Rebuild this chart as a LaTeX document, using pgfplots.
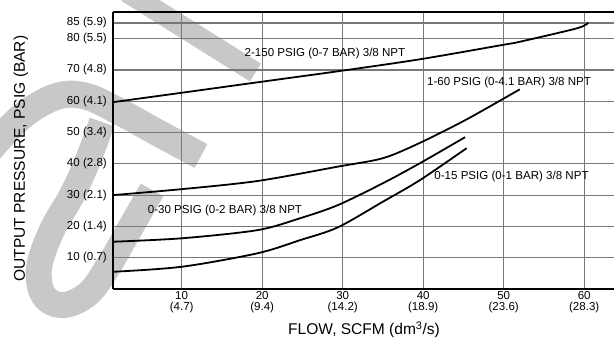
\documentclass[border=0pt]{standalone}
\usepackage{pgfplots}
\pgfplotsset{compat=1.18}
\usepackage{fontspec}
\setmainfont{Liberation Sans}
\definecolor{wm}{RGB}{200,200,200}
\definecolor{gridc}{RGB}{120,120,120}
\newcommand{\tl}{\fontsize{11.6}{11.5}\selectfont}
\newcommand{\al}{\fontsize{15.6}{18}\selectfont}
\begin{document}
\begin{tikzpicture}
\path[use as bounding box] (0bp,0bp) rectangle (615bp,343bp);
% watermark (decorative), pixel coordinates
\begin{scope}[x=1bp,y=-1bp,shift={(0bp,343bp)}]
  \draw[wm, line width=21bp] (127,-8) -- (255.5,72.5);
  \draw[wm, line width=27bp] plot[smooth, tension=0.6] coordinates {(-12,152) (20,118) (55,97) (85,96) (120,112) (160,134) (201,156)};
  \draw[wm, line width=26bp] plot[smooth, tension=0.6] coordinates {(102,122) (88,160) (72,195) (52,230) (39,268) (44,296) (64,305) (89,293) (109,265) (128,232) (152,190)};
\end{scope}
\begin{axis}[
  at={(113bp,54bp)}, anchor=south west,
  width=501bp, height=277.3bp, scale only axis,
  xmin=1.47, xmax=63.7, ymin=0, ymax=88.6,
  axis x line*=box, axis y line*=left,
  axis line style={-},
  x axis line style={line width=1.6bp},
  y axis line style={line width=2.6bp},
  tick style={draw=none},
  xticklabel pos=lower,
  xmajorgrids=true, ymajorgrids=true,
  major grid style={line width=1.2bp, draw=gridc},
  xtick={10,20,30,40,50,60},
  xticklabels={10\\(4.7),20\\(9.4),30\\(14.2),40\\(18.9),50\\(23.6),60\\(28.3)},
  ytick={10,20,30,40,50,60,70,80,85},
  yticklabels={10 (0.7),20 (1.4),30 (2.1),40 (2.8),50 (3.4),60 (4.1),70 (4.8),80 (5.5),85 (5.9)},
  /pgf/number format/assume math mode=true,
  xticklabel style={font=\tl, align=center, inner sep=0pt, anchor=north, yshift=-2bp},
  yticklabel style={font=\tl, inner sep=0pt, anchor=east, xshift=-6bp},
  xlabel={FLOW, SCFM (dm\textsuperscript{3}/s)},
  ylabel={OUTPUT PRESSURE, PSIG (BAR)},
  every axis x label/.style={at={(axis description cs:0.501,-0.148)}, anchor=center, font=\al},
  every axis y label/.style={at={(axis description cs:-0.184,0.47)}, anchor=center, rotate=90, font=\al},
  clip=false,
]
% 2-150 PSIG
\addplot[black, line width=1.8bp, smooth] coordinates {(1.47,59.7) (10.0,62.7) (19.3,66.0) (29.5,69.6) (39.6,73.4) (49.9,78.0) (52.0,79.0) (59.1,83.3) (60.5,85.1)};
% 1-60 PSIG
\addplot[black, line width=1.8bp, smooth] coordinates {(1.47,30.0) (10.0,31.9) (19.4,34.5) (29.4,39.1) (35.0,41.8) (39.6,46.7) (45.4,54.2) (52.0,63.8)};
% 0-30 PSIG
\addplot[black, line width=1.8bp, smooth] coordinates {(1.47,15.1) (10.0,16.2) (19.4,18.8) (24.7,22.6) (29.4,26.8) (35.0,33.8) (39.6,40.2) (45.2,48.5)};
% 0-15 PSIG
\addplot[black, line width=1.8bp, smooth] coordinates {(1.47,5.5) (10.0,7.1) (19.4,11.4) (24.7,15.6) (29.4,19.7) (35.0,27.9) (39.6,34.8) (45.4,45.0)};
\node[font=\tl, inner sep=0pt] at (axis cs:27.8,75.1) {2-150 PSIG (0-7 BAR) 3/8 NPT};
\node[font=\tl, inner sep=0pt] at (axis cs:50.66,66.1) {1-60 PSIG (0-4.1 BAR) 3/8 NPT};
\node[font=\tl, inner sep=0pt] at (axis cs:50.97,35.9) {0-15 PSIG (0-1 BAR) 3/8 NPT};
\node[font=\tl, inner sep=0pt] at (axis cs:15.38,25.0) {0-30 PSIG (0-2 BAR) 3/8 NPT};
\end{axis}
\end{tikzpicture}
\end{document}
